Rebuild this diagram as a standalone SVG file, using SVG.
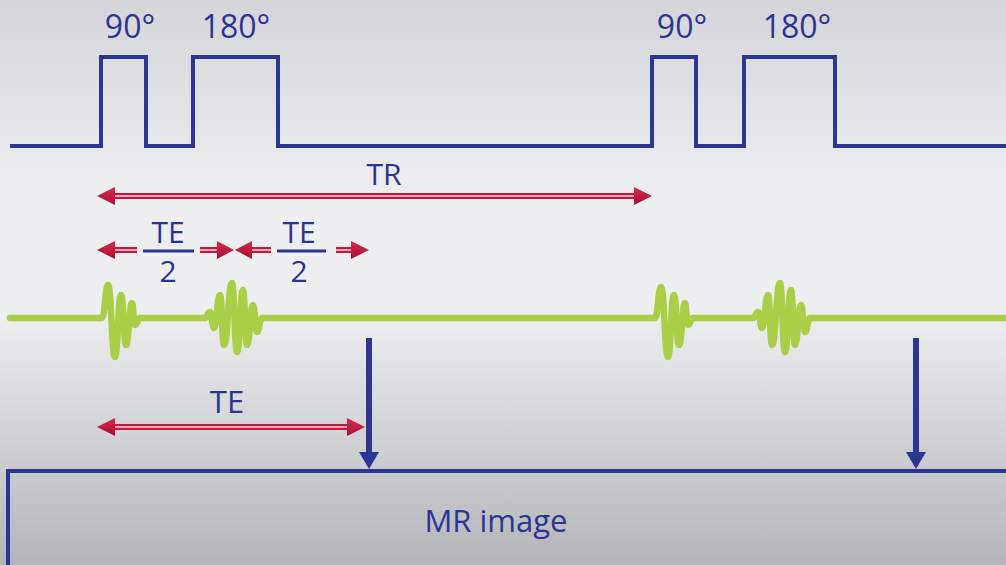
<svg xmlns="http://www.w3.org/2000/svg" width="1006" height="565" viewBox="0 0 1006 565">
<defs>
<linearGradient id="bg" x1="0" y1="0" x2="0" y2="1">
<stop offset="0" stop-color="#d3d5d8"/>
<stop offset="0.35" stop-color="#edeef0"/>
<stop offset="0.55" stop-color="#eceef0"/>
<stop offset="1" stop-color="#b3b5b8"/>
</linearGradient>
<linearGradient id="head" x1="0" y1="0" x2="0" y2="1">
<stop offset="0" stop-color="#d8294f"/>
<stop offset="1" stop-color="#a8102f"/>
</linearGradient>
</defs>
<style>
.txt{font-family:"Open Sans","Noto Sans","DejaVu Sans",sans-serif;fill:#2d3593;text-anchor:middle}
.blue{fill:none;stroke:#2d3593;stroke-width:4}
.shaft{stroke:#c4173f;stroke-width:6;fill:none}
.stripe{stroke:#f2a6b4;stroke-width:2;fill:none}
.head{fill:url(#head)}
.green{fill:none;stroke:#a8cf45;stroke-width:6.5;stroke-linejoin:round;stroke-linecap:round}
.darr{stroke:#2d3593;stroke-width:6;fill:none}
.dhead{fill:#2d3593}
</style>
<rect x="0" y="0" width="1006" height="565" fill="url(#bg)"/>

<g id="rf-pulses">
<path class="blue" d="M10,146 H101 V57 H146 V146 H193 V57 H278 V146 H652 V57 H696 V146 H744 V57 H835 V146 H1006"/>
<text class="txt" x="130" y="38" font-size="32">90°</text>
<text class="txt" x="236" y="38" font-size="32">180°</text>
<text class="txt" x="682" y="38" font-size="32">90°</text>
<text class="txt" x="797" y="38" font-size="32">180°</text>
</g>

<g id="signal">
<path class="green" d="M10,318 L102,318 C105,318 105,285 108,285 C111.5,285 111.5,357 115,357 C118,357 118,295 121,295 C123.5,295 123.5,345 126,345 C129,345 129,303 132,303 C133.5,303 133.5,325 135,325 C137.5,325 137.5,318 140,318 L205,318 C207.5,318 207.5,312 210,312 C212,312 212,328 214,328 C217,328 217,295 220,295 C222,295 222,345 224,345 C228,345 228,283 232,283 C234.5,283 234.5,352 237,352 C240,352 240,290 243,290 C245,290 245,345 247,345 C250,345 250,305 253,305 C255,305 255,332 257,332 C259.5,332 259.5,318 262,318 L655,318 C658,318 658,287 661,287 C664.5,287 664.5,357 668,357 C671,357 671,295 674,295 C676.5,295 676.5,345 679,345 C682,345 682,303 685,303 C686.5,303 686.5,325 688,325 C690.5,325 690.5,318 693,318 L753,318 C755.5,318 755.5,312 758,312 C760,312 760,328 762,328 C765,328 765,295 768,295 C770,295 770,345 772,345 C776,345 776,283 780,283 C782.5,283 782.5,352 785,352 C788,352 788,290 791,290 C793,290 793,345 795,345 C798,345 798,305 801,305 C803,305 803,332 805,332 C807.5,332 807.5,318 810,318 L1006,318"/>
</g>

<g id="connectors">
<line class="shaft" x1="113" y1="196" x2="636" y2="196"/>
<line class="stripe" x1="113" y1="196" x2="636" y2="196"/>
<polygon class="head" points="97,196 115,187 115,205"/>
<polygon class="head" points="652,196 634,187 634,205"/>
<line class="shaft" x1="113" y1="250" x2="137" y2="250"/>
<line class="stripe" x1="113" y1="250" x2="137" y2="250"/>
<polygon class="head" points="97,250 115,241 115,259"/>
<line class="shaft" x1="200" y1="250" x2="219" y2="250"/>
<line class="stripe" x1="200" y1="250" x2="219" y2="250"/>
<polygon class="head" points="234,250 217,241 217,259"/>
<line class="shaft" x1="250" y1="250" x2="271" y2="250"/>
<line class="stripe" x1="250" y1="250" x2="271" y2="250"/>
<polygon class="head" points="235,250 252,241 252,259"/>
<line class="shaft" x1="336" y1="250" x2="353" y2="250"/>
<line class="stripe" x1="336" y1="250" x2="353" y2="250"/>
<polygon class="head" points="369,250 351,241 351,259"/>
<line class="shaft" x1="113" y1="427" x2="349" y2="427"/>
<line class="stripe" x1="113" y1="427" x2="349" y2="427"/>
<polygon class="head" points="97,427 115,418 115,436"/>
<polygon class="head" points="365,427 347,418 347,436"/>
<line class="darr" x1="369" y1="338" x2="369" y2="455"/>
<polygon class="dhead" points="359,452 379,452 369,469"/>
<line class="darr" x1="916" y1="338" x2="916" y2="455"/>
<polygon class="dhead" points="906,452 926,452 916,469"/>
</g>

<g id="labels">
<text class="txt" x="384" y="185" font-size="30">TR</text>
<text class="txt" x="168" y="243" font-size="30">TE</text>
<line x1="143" y1="251" x2="194" y2="251" stroke="#2d3593" stroke-width="3"/>
<text class="txt" x="168" y="282" font-size="30">2</text>
<text class="txt" x="299" y="243" font-size="30">TE</text>
<line x1="277" y1="251" x2="326" y2="251" stroke="#2d3593" stroke-width="3"/>
<text class="txt" x="299" y="282" font-size="30">2</text>
<text class="txt" x="227" y="413" font-size="31">TE</text>
</g>

<g id="mr-image">
<rect x="8" y="471" width="1010" height="110" fill="none" stroke="#2d3593" stroke-width="4"/>
<text class="txt" x="496" y="532" font-size="31">MR image</text>
</g>
</svg>
